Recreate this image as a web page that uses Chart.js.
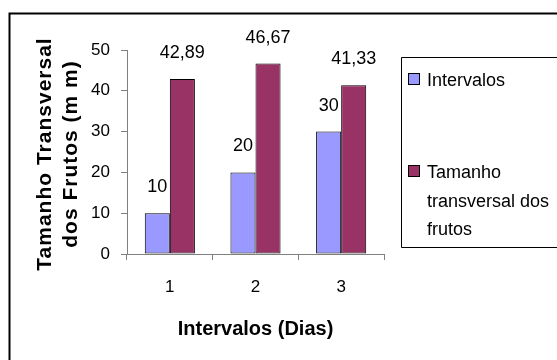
<!DOCTYPE html>
<html>
<head>
<meta charset="utf-8">
<script src="https://cdn.jsdelivr.net/npm/chart.js@4/dist/chart.umd.min.js"></script>
<style>
  html, body { margin: 0; padding: 0; background: #fff; }
  canvas { display: block; }
</style>
</head>
<body>
<canvas id="c" width="557" height="360"></canvas>
<script>
// Categories (days) and the two series
const categories = ['1', '2', '3'];
const intervalos = [10, 20, 30];
const tamanhoTransversal = [42.89, 46.67, 41.33];
const seriesNames = ['Intervalos', 'Tamanho transversal dos frutos'];
const legendLines = [['Intervalos'], ['Tamanho', 'transversal dos', 'frutos']];
const yTitleLines = ['Tamanho Transversal', 'dos Frutos (m m)'];
const xTitle = 'Intervalos (Dias)';
const yMin = 0, yMax = 50, yStep = 10;

const FONT = '"Liberation Sans", Arial, Helvetica, sans-serif';
const BLUE = '#9999FF';
const PLUM = '#993366';

Chart.defaults.font.family = FONT;
Chart.defaults.color = '#000';

const fmt = v => String(v).replace('.', ',');

// White background and the outer frame (runs past the right and bottom edges)
const framePlugin = {
  id: 'frame',
  beforeDraw(chart) {
    const ctx = chart.ctx;
    ctx.save();
    ctx.fillStyle = '#fff';
    ctx.fillRect(0, 0, chart.width, chart.height);
    ctx.strokeStyle = '#000';
    ctx.lineWidth = 2;
    ctx.beginPath();
    ctx.moveTo(9.5, chart.height + 5);
    ctx.lineTo(9.5, 13.5);
    ctx.lineTo(chart.width + 5, 13.5);
    ctx.stroke();
    ctx.restore();
  }
};

// Value labels above each bar
const valueLabels = {
  id: 'valueLabels',
  afterDatasetsDraw(chart) {
    const ctx = chart.ctx;
    ctx.save();
    ctx.font = '18px ' + FONT;
    ctx.fillStyle = '#000';
    ctx.textAlign = 'center';
    ctx.textBaseline = 'middle';
    chart.data.datasets.forEach((ds, i) => {
      chart.getDatasetMeta(i).data.forEach((bar, j) => {
        ctx.fillText(fmt(ds.data[j]), bar.x, bar.y - 26);
      });
    });
    ctx.restore();
  }
};

// Two-line rotated title for the value axis (drawn at full length, letter-spaced)
const yAxisTitle = {
  id: 'yAxisTitle',
  afterDraw(chart) {
    const ctx = chart.ctx;
    const area = chart.chartArea;
    const cy = (area.top + area.bottom) / 2 + 2;
    ctx.save();
    ctx.font = 'bold 21px ' + FONT;
    if ('letterSpacing' in ctx) ctx.letterSpacing = '1px';
    ctx.fillStyle = '#000';
    ctx.textAlign = 'center';
    ctx.textBaseline = 'middle';
    yTitleLines.forEach((line, k) => {
      ctx.save();
      ctx.translate(45 + k * 26.5, cy);
      ctx.rotate(-Math.PI / 2);
      ctx.fillText(line, 0, 0);
      ctx.restore();
    });
    ctx.restore();
  }
};

// Boxed legend on the right (box continues past the right edge)
const boxLegend = {
  id: 'boxLegend',
  afterDraw(chart) {
    const ctx = chart.ctx;
    const far = chart.width + 10;
    ctx.save();
    ctx.strokeStyle = '#000';
    ctx.lineWidth = 1;
    ctx.beginPath();
    ctx.moveTo(far, 57.5);
    ctx.lineTo(401.5, 57.5);
    ctx.lineTo(401.5, 247.5);
    ctx.lineTo(far, 247.5);
    ctx.stroke();
    ctx.font = '18px ' + FONT;
    ctx.textAlign = 'left';
    ctx.textBaseline = 'alphabetic';
    let base = 86;
    chart.data.datasets.forEach((ds, i) => {
      ctx.fillStyle = ds.backgroundColor;
      ctx.fillRect(408, base - 13, 12, 12);
      ctx.strokeRect(408.5, base - 12.5, 11, 11);
      ctx.fillStyle = '#000';
      legendLines[i].forEach((line, k) => {
        ctx.fillText(line, 427, base + k * 28.5);
      });
      base += 92;
    });
    ctx.restore();
  }
};

new Chart(document.getElementById('c'), {
  type: 'bar',
  data: {
    labels: categories,
    datasets: [
      { label: seriesNames[0], data: intervalos, backgroundColor: BLUE },
      { label: seriesNames[1], data: tamanhoTransversal, backgroundColor: PLUM }
    ]
  },
  options: {
    responsive: false,
    animation: false,
    devicePixelRatio: 1,
    layout: { padding: { top: 50, right: 173, left: 0, bottom: 0 } },
    datasets: {
      bar: {
        borderColor: '#000',
        borderWidth: 1,
        borderSkipped: false,
        categoryPercentage: 0.585,
        barPercentage: 1.0
      }
    },
    plugins: {
      legend: { display: false },
      tooltip: { enabled: false }
    },
    scales: {
      x: {
        grid: { display: true, drawOnChartArea: false, offset: true, tickLength: 6, color: '#808080' },
        border: { display: true, color: '#808080' },
        ticks: { font: { size: 17 }, color: '#000', padding: 17 },
        title: {
          display: true, text: xTitle, color: '#000',
          font: { size: 20, weight: 'bold' },
          padding: { top: 0, bottom: 19 }
        },
        afterFit(scale) { scale.height = 106; }
      },
      y: {
        min: yMin, max: yMax,
        grid: { display: true, drawOnChartArea: false, tickLength: 6, color: '#808080' },
        border: { display: true, color: '#808080' },
        ticks: { stepSize: yStep, font: { size: 17 }, color: '#000', padding: 11 },
        title: { display: false },
        afterFit(scale) { scale.width = 127; }
      }
    }
  },
  plugins: [framePlugin, valueLabels, yAxisTitle, boxLegend]
});
</script>
</body>
</html>
